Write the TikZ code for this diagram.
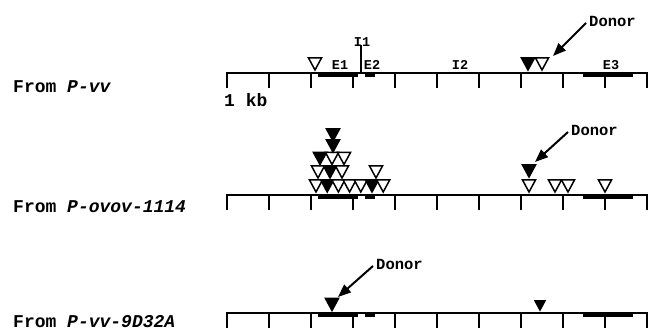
\documentclass[tikz,border=0pt]{standalone}
\usepackage{fontspec}
\setmainfont{Liberation Mono}
\usetikzlibrary{arrows.meta}
\begin{document}
\begin{tikzpicture}[x=1pt,y=-1pt,
  every node/.style={inner sep=0pt},
  axis/.style={line width=1.6pt},
  tickmark/.style={line width=1.6pt},
  exon/.style={line width=4pt},
  pics/tri/.style={code={
    \draw[line width=1.5pt, fill=#1] (-6.5,-12) -- (6.5,-12) -- (0,0) -- cycle;}},
  donor/.style={font=\bfseries\fontsize{15.5}{16}\selectfont, anchor=west},
  donorarrow/.style={line width=2pt, -{Triangle[length=13pt,width=10pt]}},
  rowlabel/.style={font=\bfseries\fontsize{18}{20}\selectfont, anchor=base west},
  region/.style={font=\bfseries\fontsize{13.5}{14}\selectfont}
]
\useasboundingbox (0,0) rectangle (649,331);

% three genomic maps: axis, 1 kb ticks and exon bars
\foreach \y in {73,195,313} {
  \draw[axis] (227,\y+15) -- (227,\y) -- (647,\y) -- (647,\y+15);
  \foreach \i in {1,...,9} \draw[tickmark] (227+42*\i,\y) -- ++(0,15);
  \draw[exon] (318,\y+2) -- (358,\y+2);
  \draw[exon] (365,\y+2) -- (375,\y+2);
  \draw[exon] (583,\y+2) -- (633,\y+2);
}

% row labels
\node[rowlabel] (lab1) at (13,93) {From \textit{P-vv}};
\node[rowlabel] (lab2) at (13,213) {From \textit{P-ovov-1114}};
\node[rowlabel] (lab3) at (13,328) {From \textit{P-vv-9D32A}};
\node[rowlabel] (scale) at (224,107) {1 kb};

% region names on the first map
\node[region] (e1) at (340,65) {E1};
\node[region] (e2) at (372,65) {E2};
\node[region] (i2) at (460,65) {I2};
\node[region] (e3) at (611,65) {E3};
\node[region] (i1) at (362,42) {I1};
\draw[tickmark] (i1.south) ++(-1,-2) -- (361,73);

% insertions, first map
\pic (a1) at (315,70) {tri=white};
\pic (a2) at (528,70) {tri=black};
\pic (a3) at (542,70) {tri=white};

% insertions, second map
\foreach \x/\f [count=\k] in {316/white,327.2/black,338.4/white,349.6/white,360.8/white,372/black,383.2/white}
  \pic (b\k) at (\x,192) {tri=\f};
\pic (c1) at (318,178) {tri=white};
\pic (c2) at (330,178) {tri=black};
\pic (c3) at (342,178) {tri=white};
\pic (c4) at (376,178) {tri=white};
\pic (c5) at (320,164.5) {tri=black};
\pic (c6) at (332,164.5) {tri=white};
\pic (c7) at (344,164.5) {tri=white};
\pic (c8) at (333,152) {tri=black};
\pic (c9) at (333,141) {tri=black};
\pic (r1) at (529,192) {tri=white};
\pic (r2) at (529,177) {tri=black};
\pic (r3) at (555,192) {tri=white};
\pic (r4) at (568,192) {tri=white};
\pic (r5) at (605,192) {tri=white};

% insertions, third map
\pic (s1) at (332,310.5) {tri=black};
\pic[scale=0.75] (s2) at (540,310) {tri=black};

% donor pointers
\node[donor] (d1) at (589,21) {Donor};
\coordinate (tip1) at (553,56);
\draw[donorarrow] ([xshift=-3pt,yshift=-2pt]d1.west) -- (tip1);

\node[donor] (d2) at (571,130) {Donor};
\coordinate (tip2) at (535,162);
\draw[donorarrow] ([xshift=-3pt,yshift=-2pt]d2.west) -- (tip2);

\node[donor] (d3) at (376,264) {Donor};
\coordinate (tip3) at (338,297);
\draw[donorarrow] ([xshift=-3pt,yshift=-2pt]d3.west) -- (tip3);
\end{tikzpicture}
\end{document}
